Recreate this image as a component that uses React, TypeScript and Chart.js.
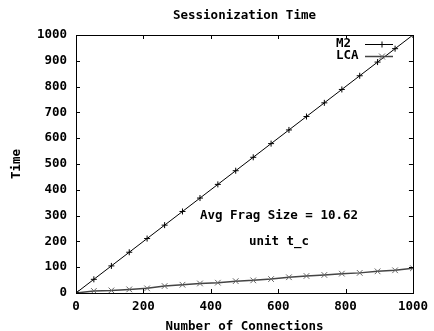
import React, { useEffect, useRef } from "react";
import { Chart, registerables } from "chart.js";

Chart.register(...registerables);

const connections = [0, 53, 105, 158, 211, 263, 316, 368, 421, 474, 526, 579, 632, 684, 737, 789, 842, 895, 947, 1000];
const m2Times = [0, 53, 105, 158, 211, 263, 316, 368, 421, 474, 526, 579, 632, 684, 737, 789, 842, 895, 947, 1000];
const lcaTimes = [0, 8, 10, 14, 18, 27, 32, 37, 40, 46, 49, 54, 61, 66, 70, 75, 78, 84, 88, 96];
const seriesNames = ["M2", "LCA"];
const titleText = "Sessionization Time";
const xTitle = "Number of Connections";
const yTitle = "Time";
const notes = ["Avg Frag Size = 10.62", "unit t_c"];

const FONT = "'DejaVu Sans Mono', monospace";

const decorPlugin = {
  id: "decor",
  afterDraw(chart: any) {
    const { ctx, chartArea } = chart;
    const { left, right, top, bottom } = chartArea;
    const xs = chart.scales.x;
    const ys = chart.scales.y;
    ctx.save();
    ctx.strokeStyle = "#000";
    ctx.lineWidth = 1;
    ctx.strokeRect(Math.round(left) + 0.5, Math.round(top) + 0.5, Math.round(right - left), Math.round(bottom - top));
    const tl = 4;
    ctx.beginPath();
    xs.ticks.forEach((t: any) => {
      const px = Math.round(xs.getPixelForValue(t.value)) + 0.5;
      ctx.moveTo(px, bottom);
      ctx.lineTo(px, bottom - tl);
      ctx.moveTo(px, top);
      ctx.lineTo(px, top + tl);
    });
    ys.ticks.forEach((t: any) => {
      const py = Math.round(ys.getPixelForValue(t.value)) + 0.5;
      ctx.moveTo(left, py);
      ctx.lineTo(left + tl, py);
      ctx.moveTo(right, py);
      ctx.lineTo(right - tl, py);
    });
    ctx.stroke();

    ctx.fillStyle = "#000";
    ctx.font = `bold 12.5px ${FONT}`;
    ctx.textBaseline = "middle";
    ctx.textAlign = "center";
    ctx.fillText(titleText, (left + right) / 2, 16);
    ctx.fillText(notes[0], 279, 216);
    ctx.fillText(notes[1], 279, 242);

    const ds = chart.data.datasets;
    const rows = [44, 55.5];
    ds.forEach((d: any, i: number) => {
      const y = rows[i];
      ctx.textAlign = "left";
      ctx.fillStyle = "#000";
      ctx.fillText(seriesNames[i], 336, y);
      ctx.strokeStyle = d.borderColor;
      ctx.lineWidth = d.borderWidth;
      ctx.beginPath();
      ctx.moveTo(365, Math.round(y) + 0.5);
      ctx.lineTo(393, Math.round(y) + 0.5);
      ctx.stroke();
      ctx.strokeStyle = d.pointBorderColor;
      ctx.lineWidth = 1;
      ctx.beginPath();
      const cx = 382;
      const cy = Math.round(y) + 0.5;
      if (d.pointStyle === "cross") {
        ctx.moveTo(cx - 3, cy);
        ctx.lineTo(cx + 3, cy);
        ctx.moveTo(cx, cy - 3);
        ctx.lineTo(cx, cy + 3);
      } else {
        ctx.moveTo(cx - 3, cy - 3);
        ctx.lineTo(cx + 3, cy + 3);
        ctx.moveTo(cx - 3, cy + 3);
        ctx.lineTo(cx + 3, cy - 3);
      }
      ctx.stroke();
    });
    ctx.restore();
  },
};

export default function App() {
  const ref = useRef<HTMLCanvasElement>(null);
  useEffect(() => {
    if (!ref.current) return;
    const chart = new Chart(ref.current, {
      type: "line",
      data: {
        datasets: [
          {
            label: seriesNames[0],
            data: connections.map((x, i) => ({ x, y: m2Times[i] })),
            borderColor: "#000",
            borderWidth: 1,
            pointStyle: "cross",
            pointRadius: 3,
            pointBorderColor: "#000",
            pointBorderWidth: 1,
            fill: false,
            tension: 0,
          },
          {
            label: seriesNames[1],
            data: connections.map((x, i) => ({ x, y: lcaTimes[i] })),
            borderColor: "#444",
            borderWidth: 1.5,
            pointStyle: "crossRot",
            pointRadius: 4,
            pointBorderColor: "#666",
            pointBorderWidth: 1,
            fill: false,
            tension: 0,
          },
        ],
      },
      options: {
        responsive: false,
        animation: false,
        events: [],
        layout: { padding: { left: 0, right: 19, top: 35, bottom: 0 } },
        plugins: {
          legend: { display: false },
          title: { display: false },
          tooltip: { enabled: false },
        },
        scales: {
          x: {
            type: "linear",
            min: 0,
            max: 1000,
            border: { display: false },
            grid: { display: false, drawTicks: false },
            ticks: {
              stepSize: 200,
              padding: 6,
              color: "#000",
              maxRotation: 0,
              callback: (v: any) => String(v),
              font: { family: FONT, size: 12.5, weight: "bold" },
            },
            title: {
              display: true,
              text: xTitle,
              color: "#000",
              padding: { top: 0, bottom: -3 },
              font: { family: FONT, size: 12.5, weight: "bold" },
            },
            afterFit: (s: any) => {
              s.height = 38;
            },
          },
          y: {
            type: "linear",
            min: 0,
            max: 1000,
            border: { display: false },
            grid: { display: false, drawTicks: false },
            ticks: {
              stepSize: 100,
              padding: 9,
              color: "#000",
              callback: (v: any) => String(v),
              font: { family: FONT, size: 12.5, weight: "bold" },
            },
            title: {
              display: true,
              text: yTitle,
              color: "#000",
              padding: { top: 9.5, bottom: 0 },
              font: { family: FONT, size: 12.5, weight: "bold" },
            },
            afterFit: (s: any) => {
              s.width = 76;
            },
          },
        },
      },
      plugins: [decorPlugin],
    });
    return () => chart.destroy();
  }, []);
  return (
    <div style={{ position: "absolute", left: 0, top: 0, width: 434, height: 331, background: "#fff" }}>
      <canvas ref={ref} width={434} height={331} style={{ display: "block" }} />
    </div>
  );
}
